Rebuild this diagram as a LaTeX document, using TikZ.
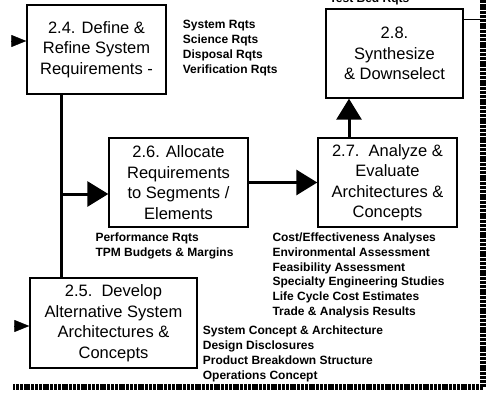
\documentclass[tikz,border=0pt]{standalone}
\usepackage{fontspec}
\setmainfont{Liberation Sans}
\usetikzlibrary{positioning, arrows.meta}

\begin{document}
\begin{tikzpicture}[
    x=1pt, y=-1pt,
    stepbox/.style={rectangle, draw=black, fill=white, line width=1.4pt, minimum width=139pt, minimum height=89pt, inner sep=0pt, align=center, font=\fontsize{16.5}{20.5}\selectfont},
    rqts/.style={inner sep=0pt, align=left, font=\fontsize{12}{14.8}\selectfont\bfseries},
    arrow/.style={-{Triangle[length=21pt, width=25pt]}, line width=3pt},
    feed/.style={-{Triangle[length=15pt, width=12pt]}, line width=0.5pt},
    link/.style={line width=3pt},
    tie/.style={line width=1.4pt},
    border/.style={line width=5.5pt, dash pattern=on 3pt off 0.8pt}
]
\useasboundingbox (0,0) rectangle (487,393);

% Process boxes
\node[stepbox] (define) at (96.5,49.5) {2.4. Define \&\\Refine System\\Requirements -};
\node[stepbox, minimum width=137pt] (synth) at (394.5,53.5) {2.8.\\Synthesize\\\& Downselect};
\node[stepbox] (allocate) at (178.5,182.5) {2.6. Allocate\\Requirements\\to Segments /\\Elements};
\node[stepbox] (analyze) at (387.5,182.5) {2.7.\ \ Analyze \&\\Evaluate\\Architectures \&\\Concepts};
\node[stepbox, minimum width=167pt, minimum height=90pt] (develop) at (113.5,323) {2.5.\ \ Develop\\Alternative System\\Architectures \&\\Concepts};

% Products
\node[rqts, below right=16pt and 16pt of define.north east] (definerqts) {System Rqts\\Science Rqts\\Disposal Rqts\\Verification Rqts};
\node[rqts, above right=6pt and 4pt of synth.north west, anchor=base west] (synthrqts) {Test Bed Rqts};
\node[rqts, below=5pt of allocate.south west, anchor=north west, xshift=-13pt] (allocaterqts) {Performance Rqts\\TPM Budgets \& Margins};
\node[rqts, below=5pt of analyze.south west, anchor=north west, xshift=-45pt] (analyzerqts) {Cost/Effectiveness Analyses\\Environmental Assessment\\Feasibility Assessment\\Specialty Engineering Studies\\Life Cycle Cost Estimates\\Trade \& Analysis Results};
\node[rqts, below right=3pt and 5pt of develop.east] (developrqts) {System Concept \& Architecture\\Design Disclosures\\Product Breakdown Structure\\Operations Concept};

% Arrows
\coordinate (spine) at (61,194);
\draw[link] (spine |- define.south) -- (spine |- develop.north);
\draw[arrow] (spine) -- (spine -| allocate.west);
\draw[arrow] (allocate) -- (analyze);
\draw[arrow] ([xshift=-38.5pt]analyze.north) -- ([xshift=-38.5pt]analyze.north |- synth.south);

\coordinate (feed24) at (12,41);
\coordinate (feed25) at (14,326);
\draw[feed] (feed24) -- (feed24 -| define.west);
\draw[feed] (feed25) -- (feed25 -| develop.west);

% Border
\coordinate (ne) at (483,-4);
\coordinate (se) at (483,387);
\coordinate (sw) at (13,387);
\draw[border] (ne) -- (se) -- (sw);
\draw[tie] ([yshift=-11pt]synth.north east) -- ([yshift=-11pt]synth.north east -| se);

\end{tikzpicture}
\end{document}
